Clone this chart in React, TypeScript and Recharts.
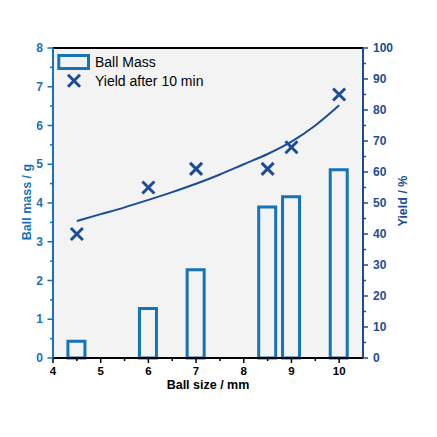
import React from "react";
import { ComposedChart, Bar, Line, Scatter, XAxis, YAxis, CartesianGrid } from "recharts";

// measured data
const ballSize = [4.5, 6, 7, 8.5, 9, 10];
const ballMass = [0.43, 1.28, 2.28, 3.9, 4.16, 4.86];
const yieldAfter10 = [40, 55, 61, 61, 68, 85];

// fitted curve
const fitSize = [4.5, 5, 5.5, 6, 6.5, 7, 7.5, 8, 8.5, 9, 9.5, 10];
const fitYield = [44.2, 46.4, 48.6, 51, 53.5, 56.2, 59.2, 62.5, 65.8, 69.8, 75, 81.5];

const sizeTicks = [4, 4.5, 5, 5.5, 6, 6.5, 7, 7.5, 8, 8.5, 9, 9.5, 10];
const massTicks = [0, 0.5, 1, 1.5, 2, 2.5, 3, 3.5, 4, 4.5, 5, 5.5, 6, 6.5, 7, 7.5, 8];
const yieldTicks = [0, 5, 10, 15, 20, 25, 30, 35, 40, 45, 50, 55, 60, 65, 70, 75, 80, 85, 90, 95, 100];

const data = ballSize.map((s, i) => ({ size: s, mass: ballMass[i], yld: yieldAfter10[i] }));
const fitData = fitSize.map((s, i) => ({ size: s, fit: fitYield[i] }));

const BLUE = "#1672b9";
const DARK = "#1c4d94";
const FONT = "'Liberation Sans', Arial, sans-serif";

const XTick = (props: any) => {
  const { x, y, payload } = props;
  const major = Number.isInteger(payload.value);
  return (
    <g>
      <line x1={x} x2={x} y1={y} y2={y + (major ? 5 : 3)} stroke="#000" strokeWidth={1.5} />
      {major && (
        <text x={x} y={y + 17} textAnchor="middle" fontSize={11.5} fontWeight="bold" fontFamily={FONT} fill="#000">
          {payload.value}
        </text>
      )}
    </g>
  );
};

const LeftTick = (props: any) => {
  const { x, y, payload } = props;
  const major = Number.isInteger(payload.value);
  return (
    <g>
      <line x1={x} x2={x - (major ? 5.5 : 3)} y1={y} y2={y} stroke={BLUE} strokeWidth={1.5} />
      {major && (
        <text x={x - 10} y={y + 4} textAnchor="end" fontSize={12} fontWeight="bold" fontFamily={FONT} fill={BLUE}>
          {payload.value}
        </text>
      )}
    </g>
  );
};

const RightTick = (props: any) => {
  const { x, y, payload } = props;
  const major = payload.value % 10 === 0;
  return (
    <g>
      <line x1={x} x2={x + (major ? 5 : 3)} y1={y} y2={y} stroke={DARK} strokeWidth={1.5} />
      {major && (
        <text x={x + 10} y={y + 4} textAnchor="start" fontSize={12} fontWeight="bold" fontFamily={FONT} fill={DARK}>
          {payload.value}
        </text>
      )}
    </g>
  );
};

const Cross = (props: any) => {
  const { cx, cy } = props;
  const r = 6;
  return (
    <g stroke={DARK} strokeWidth={3}>
      <line x1={cx - r} y1={cy - r} x2={cx + r} y2={cy + r} />
      <line x1={cx - r} y1={cy + r} x2={cx + r} y2={cy - r} />
    </g>
  );
};

const LegendBox = () => (
  <svg width={170} height={42} style={{ position: "absolute", left: 55, top: 50 }}>
    <rect x={3.8} y={5.5} width={29.7} height={13} fill="none" stroke={BLUE} strokeWidth={3} />
    <text x={40} y={17} fontSize={14} fontFamily={FONT} fill="#000">Ball Mass</text>
    <Cross cx={19} cy={30.7} />
    <text x={40} y={36} fontSize={14} fontFamily={FONT} fill="#000">Yield after 10 min</text>
  </svg>
);

const App = () => {
  return (
    <div style={{ position: "absolute", left: 0, top: 0, width: 437, height: 437, background: "#fff" }}>
      <ComposedChart width={437} height={437} data={data} margin={{ top: 47, right: 0, left: 0, bottom: 0 }}>
        <CartesianGrid fill="#f3f3f3" stroke="none" horizontal={false} vertical={false} />
        <XAxis
          dataKey="size"
          type="number"
          domain={[4, 10.5]}
          ticks={sizeTicks}
          interval={0}
          height={79}
          tickSize={0}
          tickMargin={0}
          tick={<XTick />}
          axisLine={{ stroke: "#000", strokeWidth: 2 }}
          label={{
            content: () => (
              <text x={208} y={389} textAnchor="middle" fontSize={12.5} fontWeight="bold" fontFamily={FONT} fill="#000">
                Ball size / mm
              </text>
            ),
          }}
        />
        <XAxis
          xAxisId="top"
          orientation="top"
          dataKey="size"
          type="number"
          domain={[4, 10.5]}
          height={1}
          tick={false}
          tickLine={false}
          axisLine={{ stroke: "#000", strokeWidth: 2 }}
        />
        <YAxis
          yAxisId="left"
          orientation="left"
          type="number"
          domain={[0, 8]}
          ticks={massTicks}
          interval={0}
          width={53}
          tickSize={0}
          tickMargin={0}
          tick={<LeftTick />}
          axisLine={{ stroke: BLUE, strokeWidth: 2 }}
          label={{
            content: () => (
              <text
                x={31}
                y={202}
                transform="rotate(-90 31 202)"
                textAnchor="middle"
                fontSize={12.5}
                fontWeight="bold"
                fontFamily={FONT}
                fill={BLUE}
              >
                Ball mass / g
              </text>
            ),
          }}
        />
        <YAxis
          yAxisId="right"
          orientation="right"
          type="number"
          domain={[0, 100]}
          ticks={yieldTicks}
          interval={0}
          width={74}
          tickSize={0}
          tickMargin={0}
          tick={<RightTick />}
          axisLine={{ stroke: DARK, strokeWidth: 2 }}
          label={{
            content: () => (
              <text
                x={407}
                y={201}
                transform="rotate(-90 407 201)"
                textAnchor="middle"
                fontSize={12.5}
                fontWeight="bold"
                fontFamily={FONT}
                fill={DARK}
              >
                Yield / %
              </text>
            ),
          }}
        />
        <Bar
          yAxisId="left"
          dataKey="mass"
          barSize={17}
          fill="#f3f3f3"
          stroke={BLUE}
          strokeWidth={3}
          isAnimationActive={false}
        />
        <Line
          yAxisId="right"
          data={fitData}
          dataKey="fit"
          type="monotone"
          stroke={DARK}
          strokeWidth={2}
          dot={false}
          activeDot={false}
          isAnimationActive={false}
        />
        <Scatter yAxisId="right" dataKey="yld" shape={<Cross />} isAnimationActive={false} />
      </ComposedChart>
      <LegendBox />
    </div>
  );
};

export default App;
